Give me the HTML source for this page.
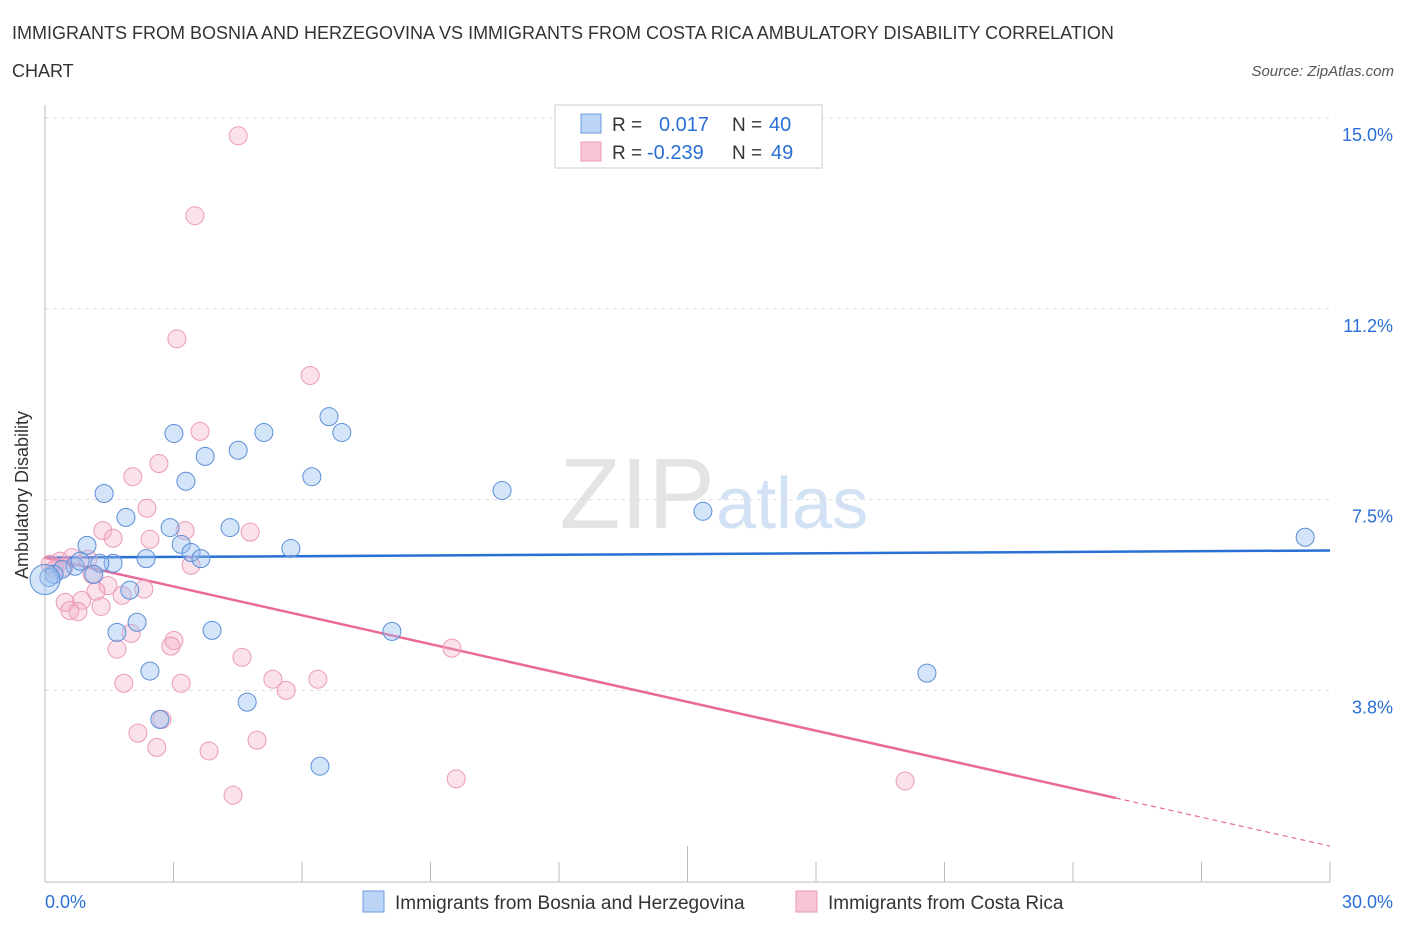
<!DOCTYPE html>
<html><head><meta charset="utf-8"><style>
body{margin:0;background:#fff;font-family:"Liberation Sans",sans-serif;}
svg text{font-family:"Liberation Sans",sans-serif;}
</style></head><body>
<svg id="c" width="1406" height="930" xmlns="http://www.w3.org/2000/svg">
<text x="12" y="39" font-size="18" fill="#333">IMMIGRANTS FROM BOSNIA AND HERZEGOVINA VS IMMIGRANTS FROM COSTA RICA AMBULATORY DISABILITY CORRELATION</text>
<text x="12" y="77" font-size="18" fill="#333">CHART</text>
<text x="1394" y="76" font-size="15" fill="#555" font-style="italic" text-anchor="end">Source: ZipAtlas.com</text>
<text x="715" y="528" font-size="100" fill="#e4e4e4" text-anchor="end" font-family="Liberation Serif">ZIP</text>
<text x="716" y="528" font-size="72" fill="#d2e1f3">atlas</text>
<g id="grid"></g><g id="axes"></g><g id="trends"></g><g id="pts"></g>
<text x="28" y="495" font-size="18" fill="#333" text-anchor="middle" transform="rotate(-90 28 495)">Ambulatory Disability</text>
<g>
<rect x="555" y="105" width="267" height="63" fill="#fff" stroke="#ccc"/>
<rect x="581" y="114" width="20" height="19" fill="#bcd4f5" stroke="#6a9be0"/>
<rect x="581" y="142" width="20" height="19" fill="#f8c5d4" stroke="#ec9ab6"/>
<text x="612" y="131" font-size="19" fill="#333">R = </text><text x="659" y="131" font-size="20" fill="#2a6fd6">0.017</text>
<text x="732" y="131" font-size="19" fill="#333">N = </text><text x="769" y="131" font-size="20" fill="#2a6fd6">40</text>
<text x="612" y="159" font-size="19" fill="#333">R = </text><text x="647" y="159" font-size="20" fill="#2a6fd6">-0.239</text>
<text x="732" y="159" font-size="19" fill="#333">N = </text><text x="771" y="159" font-size="20" fill="#2a6fd6">49</text>
</g>
<rect x="363" y="891" width="21" height="21" fill="#bcd4f5" stroke="#6a9be0"/>
<text x="395" y="909" font-size="19" fill="#333">Immigrants from Bosnia and Herzegovina</text>
<rect x="796" y="891" width="21" height="21" fill="#f8c5d4" stroke="#ec9ab6"/>
<text x="828" y="909" font-size="19" fill="#333">Immigrants from Costa Rica</text>
</svg>
<script>
const blueX=[1.38,1.89,3.01,3.29,3.74,4.51,5.11,6.63,6.93,6.23,10.67,15.36,29.42,2.92,3.18,3.41,3.64,4.32,5.74,2.36,1.59,0.98,1.28,0.70,0.40,0.21,0.09,1.98,1.68,2.15,3.90,2.45,4.72,2.68,6.42,8.10,20.59,0.82,1.14,0.0];
const blueY=[7.62,7.15,8.80,7.86,8.35,8.47,8.82,9.13,8.82,7.95,7.68,7.27,6.76,6.95,6.62,6.46,6.34,6.95,6.54,6.34,6.25,6.60,6.25,6.19,6.13,6.03,5.97,5.72,4.89,5.09,4.93,4.13,3.52,3.18,2.26,4.91,4.09,6.29,6.03,5.93];
const pinkX=[4.51,3.50,3.08,6.19,3.62,2.66,2.05,2.38,1.35,1.59,3.27,4.79,2.45,3.41,1.47,1.19,1.80,2.31,0.86,0.47,0.58,0.77,1.31,2.01,3.01,2.94,1.68,9.50,4.60,1.84,3.18,5.32,5.63,6.37,2.17,2.73,2.61,3.83,4.95,4.39,9.60,20.08,0.35,0.63,1.00,0.12,0.23,1.10,0.44];
const pinkY=[14.65,13.08,10.66,9.94,8.84,8.21,7.95,7.33,6.89,6.74,6.89,6.86,6.72,6.21,5.81,5.70,5.62,5.74,5.52,5.48,5.32,5.30,5.40,4.87,4.73,4.62,4.56,4.58,4.40,3.89,3.89,3.97,3.75,3.97,2.91,3.18,2.63,2.56,2.77,1.69,2.01,1.97,6.29,6.36,6.33,6.23,6.13,6.03,6.17];
const blueTrend=[6.36,6.50];
const pinkTrend=[6.36,-0.189];
const yTicks=[15,11.25,7.5,3.75];
const yTickLabels=["15.0%","11.2%","7.5%","3.8%"];
const xTicks=[0,3,6,9,12,15,18,21,24,27,30];
const NS="http://www.w3.org/2000/svg";
const xs=v=>45+v*1285/30;
const ys=v=>118+(15-v)*50.88;
function mk(t,a,p){const e=document.createElementNS(NS,t);for(const k in a)e.setAttribute(k,a[k]);document.getElementById(p).appendChild(e);return e;}
yTicks.forEach((v,i)=>{
 const l=mk('line',{x1:45,x2:1330,y1:ys(v),y2:ys(v),stroke:'#ddd','stroke-dasharray':'4 4'},'grid');
 
 
 const t=mk('text',{x:1393,y:ys(v)+23,'font-size':18,fill:'#2a6fd6','text-anchor':'end'},'grid');
 t.textContent=yTickLabels[i];
 
 
});
const ya=mk('line',{x1:45,x2:45,y1:105,y2:882,stroke:'#bbb'},'axes');


const xa=mk('line',{x1:45,x2:1330,y1:882,y2:882,stroke:'#bbb'},'axes');


xTicks.forEach((v,i)=>{
 const tk=mk('line',{x1:xs(v),x2:xs(v),y1:(i==5?846:862),y2:882,stroke:'#bbb'},'axes');
 
 
});
const xl0=mk('text',{x:45,y:908,'font-size':18,fill:'#2a6fd6'},'axes');xl0.textContent='0.0%';


const xl1=mk('text',{x:1393,y:908,'font-size':18,fill:'#2a6fd6','text-anchor':'end'},'axes');xl1.textContent='30.0%';


pinkX.forEach((x,i)=>{
 const c=mk('circle',{cx:xs(x),cy:ys(pinkY[i]),r:9,fill:'rgba(244,170,195,0.35)',stroke:'#ec9ab6','stroke-width':1},'pts');
 
 
});
blueX.forEach((x,i)=>{
 const c=mk('circle',{cx:xs(x),cy:ys(blueY[i]),r:(i==blueX.length-1?15:9),fill:'rgba(150,190,240,0.4)',stroke:'#5b8ed8','stroke-width':1},'pts');
 
 
});
const bt=mk('line',{x1:xs(0),x2:xs(30),y1:ys(blueTrend[0]),y2:ys(blueTrend[1]),stroke:'#2a6fd6','stroke-width':2.5},'trends');


const pf=x=>pinkTrend[0]+pinkTrend[1]*x;
const pt=mk('line',{x1:xs(0),x2:xs(25),y1:ys(pf(0)),y2:ys(pf(25)),stroke:'#e8699a','stroke-width':2.5},'trends');


const pd=mk('line',{x1:xs(25),x2:xs(30),y1:ys(pf(25)),y2:ys(pf(30)),stroke:'#e8699a','stroke-width':1.2,'stroke-dasharray':'5 4'},'trends');


</script>
</body></html>
